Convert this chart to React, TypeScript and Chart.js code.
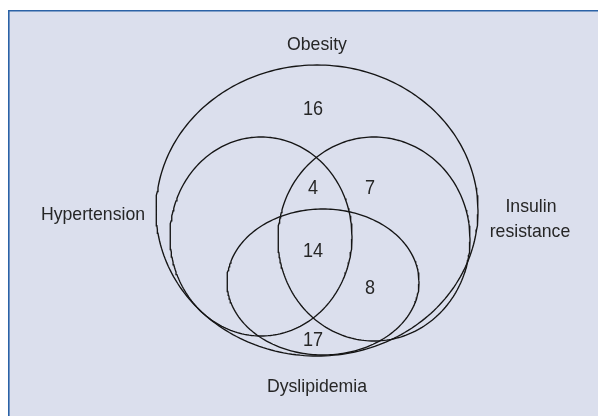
import React, { useEffect, useRef } from "react";
import { Chart, registerables } from "chart.js";

Chart.register(...registerables);

// Set names (Euler diagram) and their ellipse geometry in diagram units
const setNames = ["Obesity", "Hypertension", "Insulin resistance", "Dyslipidemia"];
const ellipseCx = [317, 261, 374, 323];
const ellipseCy = [210.5, 236.5, 239, 282];
const ellipseRx = [161, 91, 96, 96];
const ellipseRy = [145.5, 99.5, 102, 73];

// Region counts and their positions (text baseline) in diagram units
const regionCounts = [16, 4, 7, 14, 8, 17];
const regionX = [313, 313, 370, 313, 370, 313];
const regionY = [115, 193.5, 193.5, 257, 293.5, 346];

// Set label lines and positions (text baseline)
const labelLines = ["Obesity", "Hypertension", "Insulin", "resistance", "Dyslipidemia"];
const labelX = [317, 93, 531, 530, 317];
const labelY = [50, 219.5, 211.5, 236.5, 391.5];

const W = 598;
const H = 416;

function ellipsePoints(i: number) {
  const pts: { x: number; y: number }[] = [];
  const n = 240;
  for (let k = 0; k <= n; k++) {
    const t = (k / n) * Math.PI * 2;
    pts.push({ x: ellipseCx[i] + ellipseRx[i] * Math.cos(t), y: ellipseCy[i] + ellipseRy[i] * Math.sin(t) });
  }
  return pts;
}

const framePlugin = {
  id: "frame",
  beforeDraw(chart: any) {
    const ctx = chart.ctx;
    ctx.save();
    ctx.fillStyle = "#dbdfed";
    ctx.fillRect(8, 10, W, H);
    ctx.strokeStyle = "#2b62a6";
    ctx.lineWidth = 1.6;
    ctx.beginPath();
    ctx.moveTo(8.8, H + 2);
    ctx.lineTo(8.8, 10.8);
    ctx.lineTo(W + 2, 10.8);
    ctx.stroke();
    ctx.restore();
  },
};

const textPlugin = {
  id: "texts",
  afterDatasetsDraw(chart: any) {
    const ctx = chart.ctx;
    chart.data.datasets.forEach((ds: any, di: number) => {
      if (!ds.textLabels) return;
      const meta = chart.getDatasetMeta(di);
      meta.data.forEach((pt: any, i: number) => {
        ctx.save();
        ctx.font = ds.textFont;
        ctx.textAlign = "center";
        ctx.textBaseline = "alphabetic";
        ctx.fillStyle = "#262626";
        ctx.translate(pt.x, pt.y);
        ctx.scale(ds.textScaleX, 1);
        ctx.fillText(String(ds.textLabels[i]), 0, 0);
        ctx.restore();
      });
    });
  },
};

export default function App() {
  const ref = useRef<HTMLCanvasElement | null>(null);
  useEffect(() => {
    if (!ref.current) return;
    const datasets: any[] = setNames.map((name, i) => ({
      label: name,
      data: ellipsePoints(i),
      showLine: true,
      pointRadius: 0,
      borderColor: "#151515",
      borderWidth: 1.35,
      fill: false,
      tension: 0,
    }));
    datasets.push({
      label: "counts",
      data: regionCounts.map((_, i) => ({ x: regionX[i], y: regionY[i] })),
      pointRadius: 0,
      showLine: false,
      textLabels: regionCounts,
      textFont: '21px "Liberation Sans", Arial, sans-serif',
      textScaleX: 0.86,
    });
    datasets.push({
      label: "labels",
      data: labelLines.map((_, i) => ({ x: labelX[i], y: labelY[i] })),
      pointRadius: 0,
      showLine: false,
      textLabels: labelLines,
      textFont: '19px "Liberation Sans", Arial, sans-serif',
      textScaleX: 0.93,
    });
    const chart = new Chart(ref.current, {
      type: "scatter",
      data: { datasets },
      options: {
        responsive: false,
        animation: false,
        layout: { padding: 0 },
        scales: {
          x: { type: "linear", min: 0, max: W, display: false },
          y: { type: "linear", min: 0, max: H, reverse: true, display: false },
        },
        plugins: { legend: { display: false }, tooltip: { enabled: false } },
        events: [],
      } as any,
      plugins: [framePlugin, textPlugin],
    });
    return () => chart.destroy();
  }, []);
  return (
    <div style={{ position: "fixed", left: 0, top: 0, width: W, height: H, background: "#ffffff" }}>
      <canvas ref={ref} width={W} height={H} style={{ width: W, height: H, display: "block" }} />
    </div>
  );
}
